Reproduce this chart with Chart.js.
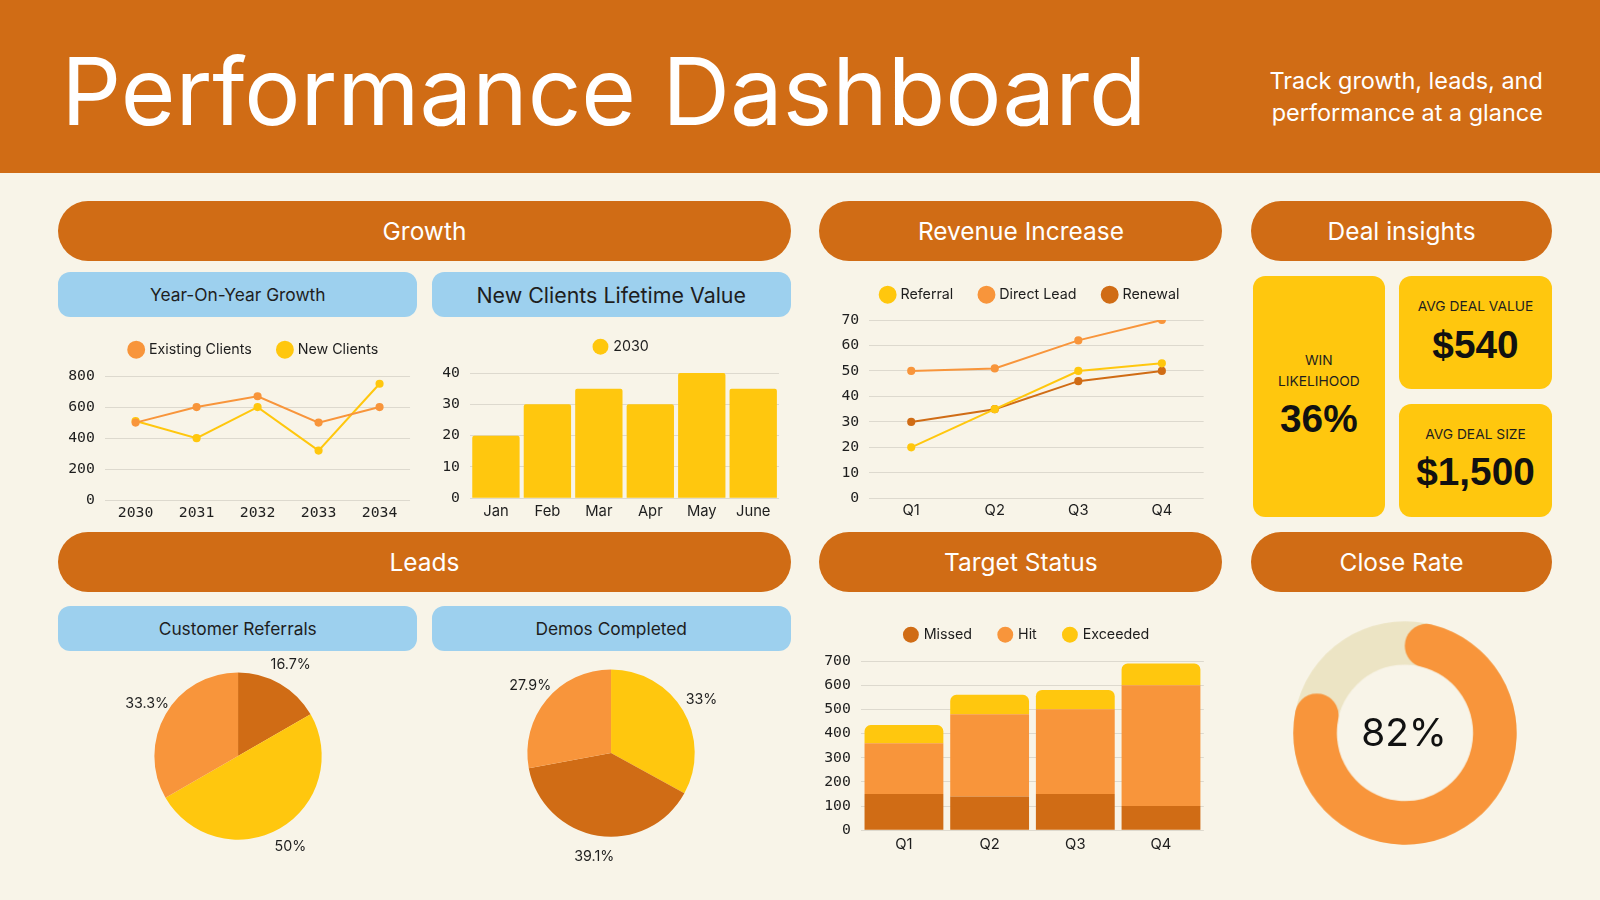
<!DOCTYPE html>
<html>
<head>
<meta charset="utf-8">
<script src="https://cdn.jsdelivr.net/npm/chart.js@4.4.1/dist/chart.umd.min.js"></script>
<style>
  html, body { margin: 0; padding: 0; }
  body { width: 1600px; height: 900px; background: #F8F4E8; position: relative; overflow: hidden; font-family: Inter, "Noto Sans", sans-serif; }
  .abs { position: absolute; box-sizing: border-box; }
  .center { display: flex; align-items: center; justify-content: center; text-align: center; }
</style>
</head>
<body>
<script>
// layout is measured on a 1568 wide copy of the design, scaled up to the 1600 page
const S = 1600 / 1568

const DARK = '#D06C15'
const ORANGE = '#F8953B'
const YELLOW = '#FFC70E'
const BEIGE = '#ECE4C4'
const BLUE = '#9DD0EE'
const INK = '#1E1E1E'
const GRID = '#DDD9CE'
const MONO = '"DejaVu Sans Mono", monospace'
const SANS = 'Inter, "Noto Sans", sans-serif'

// Year-On-Year Growth
const years = ['2030', '2031', '2032', '2033', '2034']
const existingClients = [500, 600, 670, 500, 600]
const newClients = [510, 400, 600, 320, 750]

// New Clients Lifetime Value
const months = ['Jan', 'Feb', 'Mar', 'Apr', 'May', 'June']
const lifetimeValue = [20, 30, 35, 30, 40, 35]

// Revenue Increase
const quarters = ['Q1', 'Q2', 'Q3', 'Q4']
const referral = [20, 35, 50, 53]
const directLead = [50, 51, 62, 70]
const renewal = [30, 35, 46, 50]

// Target Status
const missed = [150, 140, 150, 100]
const hit = [210, 340, 350, 500]
const exceeded = [75, 80, 80, 90]

// Leads pies (percent)
const referralLabels = ['Renewal', 'Referral', 'Direct Lead']
const referralShares = [16.7, 50, 33.3]
const demoLabels = ['Referral', 'Renewal', 'Direct Lead']
const demoShares = [33, 39.1, 27.9]

// Close rate
const closeRate = [82, 18]

function el(x, y, w, h, css, html) {
  const d = document.createElement('div')
  d.className = 'abs'
  d.style.left = x * S + 'px'
  d.style.top = y * S + 'px'
  if (w != null) d.style.width = w * S + 'px'
  if (h != null) d.style.height = h * S + 'px'
  Object.assign(d.style, css || {})
  if (html != null) d.innerHTML = html
  document.body.appendChild(d)
  return d
}

function pill(text, x, y, w, h, bg, color, size, radius) {
  const d = el(x, y, w, h, {
    background: bg, color: color, borderRadius: radius * S + 'px',
    fontSize: size * S + 'px'
  }, text)
  d.classList.add('center')
  return d
}

function canvasAt(x, y, w, h) {
  const d = el(x, y, w, h)
  const c = document.createElement('canvas')
  d.appendChild(c)
  return c
}

const font = (size, family, weight) => ({ size: size * S, family: family || SANS, weight: weight || 'normal' })

// header
el(0, 0, 1568, 170, { background: DARK })
el(60, 44, 1200, 92, { color: '#fff', fontSize: 92 * S + 'px', lineHeight: 1, whiteSpace: 'nowrap' }, 'Performance Dashboard')
el(1100, 64, 412, 64, { color: '#fff', fontSize: 23 * S + 'px', lineHeight: 31 * S + 'px', textAlign: 'right' },
  'Track growth, leads, and<br>performance at a glance')

// section pills
pill('Growth', 57, 197, 718, 59, DARK, '#fff', 24, 30)
pill('Revenue Increase', 803, 197, 395, 59, DARK, '#fff', 24, 30)
pill('Deal insights', 1226, 197, 295, 59, DARK, '#fff', 24, 30)
pill('Leads', 57, 521, 718, 59, DARK, '#fff', 24, 30)
pill('Target Status', 803, 521, 395, 59, DARK, '#fff', 24, 30)
pill('Close Rate', 1226, 521, 295, 59, DARK, '#fff', 24, 30)

pill('Year-On-Year Growth', 57, 267, 352, 44, BLUE, INK, 17, 12)
pill('New Clients Lifetime Value', 423, 267, 352, 44, BLUE, INK, 21, 12)
pill('Customer Referrals', 57, 594, 352, 44, BLUE, INK, 17, 12)
pill('Demos Completed', 423, 594, 352, 44, BLUE, INK, 17, 12)

// deal insight cards
el(1228, 270, 129, 237, { background: YELLOW, borderRadius: 12 * S + 'px' })
el(1371, 270, 150, 111, { background: YELLOW, borderRadius: 12 * S + 'px' })
el(1371, 396, 150, 111, { background: YELLOW, borderRadius: 12 * S + 'px' })
const lbl = { color: INK, fontSize: 13.5 * S + 'px', lineHeight: 21 * S + 'px', textAlign: 'center' }
const big = { color: '#111', fontFamily: '"Liberation Sans", Arial, sans-serif', fontWeight: 'bold', fontSize: 38 * S + 'px', lineHeight: 1, textAlign: 'center' }
el(1228, 343, 129, 42, lbl, 'WIN<br>LIKELIHOOD')
el(1228, 392, 129, 40, big, '36%')
el(1371, 290, 150, 21, lbl, 'AVG DEAL VALUE')
el(1371, 319, 150, 40, big, '$540')
el(1371, 416, 150, 21, lbl, 'AVG DEAL SIZE')
el(1371, 444, 150, 40, big, '$1,500')

// extra room between the legend and the plot, and a sideways nudge for the legend row
const legendGap = {
  id: 'legendGap',
  beforeInit(chart) {
    const legend = chart.legend
    const fit = legend.fit
    const draw = legend.draw
    legend.fit = function () {
      fit.call(this)
      this.height += (chart.options.plugins.legendGap.extra || 0) * S
    }
    legend.draw = function () {
      chart.ctx.save()
      chart.ctx.translate((chart.options.plugins.legendGap.shift || 0) * S, 0)
      draw.call(this)
      chart.ctx.restore()
    }
  }
}

// shared chart bits
const legendOpts = {
  position: 'top',
  labels: { usePointStyle: true, pointStyle: 'circle', boxWidth: 11 * S, boxHeight: 11 * S, padding: 27 * S, color: INK, font: font(14) }
}
function yScale(max, step) {
  return {
    beginAtZero: true, max: max,
    ticks: { stepSize: step, color: INK, font: font(14.5, MONO), padding: 10 * S },
    grid: { color: GRID, drawTicks: false },
    border: { display: false }
  }
}
function xScale(mono, pad) {
  return {
    offset: true,
    ticks: { color: INK, font: font(14.5, mono ? MONO : SANS), padding: pad * S },
    grid: { display: false, drawTicks: false },
    border: { display: false }
  }
}
function lineSet(label, data, colour) {
  return {
    label: label, data: data, borderColor: colour, backgroundColor: colour,
    pointBackgroundColor: colour, pointBorderColor: colour,
    borderWidth: 2 * S, pointRadius: 3 * S, tension: 0
  }
}
function opts(extra, shift, padLeft, padRight, scales) {
  return {
    responsive: true, maintainAspectRatio: false, animation: false,
    layout: { padding: { left: padLeft * S, right: padRight * S } },
    plugins: { legend: legendOpts, tooltip: { enabled: false }, legendGap: { extra: extra, shift: shift } },
    scales: scales
  }
}

// Year-On-Year Growth
new Chart(canvasAt(57, 309, 352, 207), {
  type: 'line',
  data: {
    labels: years,
    datasets: [lineSet('Existing Clients', existingClients, ORANGE), lineSet('New Clients', newClients, YELLOW)]
  },
  options: opts(9, 20, 0, 7, { x: xScale(true, 4), y: yScale(800, 200) }),
  plugins: [legendGap]
})

// New Clients Lifetime Value
new Chart(canvasAt(423, 306, 352, 208), {
  type: 'bar',
  data: {
    labels: months,
    datasets: [{ label: '2030', data: lifetimeValue, backgroundColor: YELLOW, borderRadius: 2 * S, borderSkipped: 'bottom', barPercentage: 0.92, categoryPercentage: 1 }]
  },
  options: opts(9, 16, 0, 12, { x: xScale(false, 4), y: yScale(40, 10) }),
  plugins: [legendGap]
})

// Revenue Increase
new Chart(canvasAt(803, 255, 395, 257), {
  type: 'line',
  data: {
    labels: quarters,
    datasets: [lineSet('Referral', referral, YELLOW), lineSet('Direct Lead', directLead, ORANGE), lineSet('Renewal', renewal, DARK)]
  },
  options: opts(8, 13, 12, 18, { x: xScale(false, 3), y: yScale(70, 10) }),
  plugins: [legendGap]
})

// Target Status
new Chart(canvasAt(798, 588, 400, 253), {
  type: 'bar',
  data: {
    labels: quarters,
    datasets: [
      { label: 'Missed', data: missed, backgroundColor: DARK },
      { label: 'Hit', data: hit, backgroundColor: ORANGE },
      { label: 'Exceeded', data: exceeded, backgroundColor: YELLOW, borderRadius: { topLeft: 6 * S, topRight: 6 * S, bottomLeft: 0, bottomRight: 0 }, borderSkipped: false }
    ].map(d => ({ barPercentage: 0.92, categoryPercentage: 1, ...d }))
  },
  options: opts(9, 18, 0, 18, { x: { ...xScale(false, 5), stacked: true }, y: { ...yScale(700, 100), stacked: true } }),
  plugins: [legendGap]
})

// percentage labels outside the pie slices
const outsideLabels = {
  id: 'outsideLabels',
  afterDatasetsDraw(chart, args, opts) {
    const ctx = chart.ctx
    const values = chart.data.datasets[0].data
    ctx.save()
    ctx.font = `${14 * S}px ${SANS}`
    ctx.fillStyle = INK
    ctx.textAlign = 'center'
    ctx.textBaseline = 'middle'
    chart.getDatasetMeta(0).data.forEach((arc, i) => {
      const mid = (arc.startAngle + arc.endAngle) / 2
      const r = arc.outerRadius + opts.offset
      ctx.fillText(values[i] + '%', arc.x + Math.cos(mid) * r, arc.y + Math.sin(mid) * r)
    })
    ctx.restore()
  }
}

function pie(cx, cy, labels, data, colours) {
  const size = 300
  new Chart(canvasAt(cx - size / 2, cy - size / 2, size, size), {
    type: 'pie',
    data: { labels: labels, datasets: [{ data: data, backgroundColor: colours, borderWidth: 0 }] },
    options: {
      responsive: true, maintainAspectRatio: false, animation: false,
      layout: { padding: (size / 2 - 82) * S },
      plugins: { legend: { display: false }, tooltip: { enabled: false }, outsideLabels: { offset: 21 * S } }
    },
    plugins: [outsideLabels]
  })
}
pie(233, 741, referralLabels, referralShares, [DARK, YELLOW, ORANGE])
pie(599, 738, demoLabels, demoShares, [YELLOW, DARK, ORANGE])

// full light ring behind the close rate arc
const ringTrack = {
  id: 'ringTrack',
  beforeDatasetsDraw(chart, args, opts) {
    const arc = chart.getDatasetMeta(0).data[0]
    const ctx = chart.ctx
    ctx.save()
    ctx.beginPath()
    ctx.arc(arc.x, arc.y, (arc.outerRadius + arc.innerRadius) / 2, 0, Math.PI * 2)
    ctx.lineWidth = arc.outerRadius - arc.innerRadius
    ctx.strokeStyle = opts.color
    ctx.stroke()
    ctx.restore()
  }
}

new Chart(canvasAt(1376 - 120, 718 - 120, 240, 240), {
  type: 'doughnut',
  data: { labels: ['Closed', 'Open'], datasets: [{ data: closeRate, backgroundColor: [ORANGE, 'rgba(0,0,0,0)'], borderWidth: 0, borderRadius: 30 * S }] },
  options: {
    responsive: true, maintainAspectRatio: false, animation: false, cutout: '61%',
    layout: { padding: 11 * S },
    plugins: { legend: { display: false }, tooltip: { enabled: false }, ringTrack: { color: BEIGE } }
  },
  plugins: [ringTrack]
})
el(1376 - 60, 718 - 22, 120, 44, { color: '#111', fontSize: 38 * S + 'px', lineHeight: 44 * S + 'px', textAlign: 'center' }, closeRate[0] + '%')
</script>
</body>
</html>
